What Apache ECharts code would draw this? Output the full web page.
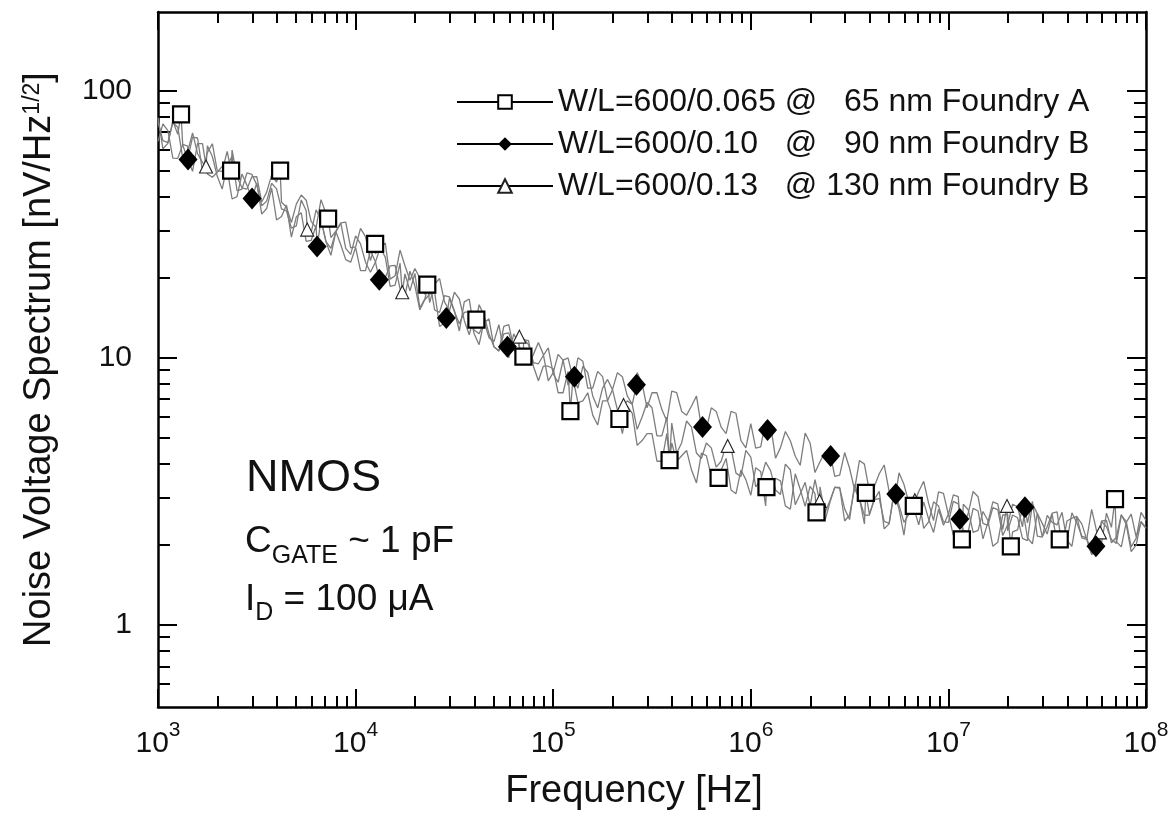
<!DOCTYPE html>
<html>
<head>
<meta charset="utf-8">
<script src="https://cdn.jsdelivr.net/npm/echarts@6/dist/echarts.min.js"></script>
<style>
  html, body { margin: 0; padding: 0; background: #fff; }
  #chart { width: 1176px; height: 813px; }
</style>
</head>
<body>
<div id="chart"></div>
<script>
const FONT = '"Liberation Sans", Arial, Helvetica, sans-serif';
const INK = '#111';

// Sampling frequencies of the measured spectra [Hz]: main grid ...
const freq = [
  1000, 1122, 1259, 1413, 1585, 1778, 1995, 2239, 2512, 2818, 3162, 3548, 3981, 4467, 5012, 5623, 6310, 7079, 7943, 8913,
  1.0e4, 1.122e4, 1.259e4, 1.413e4, 1.585e4, 1.778e4, 1.995e4, 2.239e4, 2.512e4, 2.818e4, 3.162e4, 3.548e4, 3.981e4, 4.467e4, 5.012e4, 5.623e4, 6.310e4, 7.079e4, 7.943e4, 8.913e4,
  1.0e5, 1.122e5, 1.259e5, 1.413e5, 1.585e5, 1.778e5, 1.995e5, 2.239e5, 2.512e5, 2.818e5, 3.162e5, 3.548e5, 3.981e5, 4.467e5, 5.012e5, 5.623e5, 6.310e5, 7.079e5, 7.943e5, 8.913e5,
  1.0e6, 1.122e6, 1.259e6, 1.413e6, 1.585e6, 1.778e6, 1.995e6, 2.239e6, 2.512e6, 2.818e6, 3.162e6, 3.548e6, 3.981e6, 4.467e6, 5.012e6, 5.623e6, 6.310e6, 7.079e6, 7.943e6, 8.913e6,
  1.0e7, 1.122e7, 1.259e7, 1.413e7, 1.585e7, 1.778e7, 1.995e7, 2.239e7, 2.512e7, 2.818e7, 3.162e7, 3.548e7, 3.981e7, 4.467e7, 5.012e7, 5.623e7, 6.310e7, 7.079e7, 7.943e7, 8.913e7,
  1.0e8
];
// ... and the interleaved points between them
const freqMid = [
  1059, 1189, 1334, 1496, 1679, 1884, 2113, 2371, 2661, 2985, 3350, 3758, 4217, 4732, 5309, 5957, 6683, 7499, 8414, 9441,
  1.059e4, 1.189e4, 1.334e4, 1.496e4, 1.679e4, 1.884e4, 2.113e4, 2.371e4, 2.661e4, 2.985e4, 3.350e4, 3.758e4, 4.217e4, 4.732e4, 5.309e4, 5.957e4, 6.683e4, 7.499e4, 8.414e4, 9.441e4,
  1.059e5, 1.189e5, 1.334e5, 1.496e5, 1.679e5, 1.884e5, 2.113e5, 2.371e5, 2.661e5, 2.985e5, 3.350e5, 3.758e5, 4.217e5, 4.732e5, 5.309e5, 5.957e5, 6.683e5, 7.499e5, 8.414e5, 9.441e5,
  1.059e6, 1.189e6, 1.334e6, 1.496e6, 1.679e6, 1.884e6, 2.113e6, 2.371e6, 2.661e6, 2.985e6, 3.350e6, 3.758e6, 4.217e6, 4.732e6, 5.309e6, 5.957e6, 6.683e6, 7.499e6, 8.414e6, 9.441e6,
  1.059e7, 1.189e7, 1.334e7, 1.496e7, 1.679e7, 1.884e7, 2.113e7, 2.371e7, 2.661e7, 2.985e7, 3.350e7, 3.758e7, 4.217e7, 4.732e7, 5.309e7, 5.957e7, 6.683e7, 7.499e7, 8.414e7, 9.441e7
];

// Noise voltage spectra [nV/sqrt(Hz)] on freq
const noise65 = [
  79.2, 63.5, 68.6, 55.4, 66.5, 58.6, 50.1, 59.3, 47.5, 42.8, 47.7, 41.7, 45.5, 36.7, 37.6, 38.9, 30.7, 34.7, 29.8, 32.2,
  26.0, 28.4, 24.5, 26.9, 20.3, 22.1, 21.6, 17.3, 18.9, 16.2, 17.6, 13.8, 14.3, 14.4, 11.0, 12.3, 10.8, 11.7, 9.3, 9.3,
  9.1, 7.4, 8.4, 6.9, 6.1, 6.9, 6.1, 5.2, 6.2, 4.9, 5.2, 4.1, 4.8, 4.3, 3.8, 4.4, 3.6, 3.8, 3.2, 3.8,
  3.06, 3.75, 3.14, 3.46, 2.71, 3.22, 3.30, 2.73, 2.87, 3.25, 2.48, 2.97, 2.60, 2.98, 2.40, 2.72, 2.95, 2.37, 2.49, 2.71,
  2.60, 2.18, 2.70, 2.26, 2.46, 2.04, 2.59, 2.27, 2.12, 2.62, 2.19, 2.02, 2.45, 2.55, 2.09, 2.25, 2.62, 2.05, 2.42, 2.14,
  2.30
];
const noise90 = [
  64.6, 70.9, 55.8, 62.0, 63.3, 48.8, 49.5, 50.8, 40.1, 44.3, 45.1, 36.2, 32.8, 37.3, 33.7, 27.3, 31.3, 27.2, 29.7, 23.3,
  25.9, 21.2, 22.9, 20.0, 22.2, 17.1, 18.6, 16.5, 17.6, 13.5, 14.9, 14.8, 12.3, 13.7, 11.5, 10.5, 12.3, 9.9, 10.3, 10.3,
  8.8, 9.8, 8.7, 9.7, 7.7, 8.5, 7.6, 8.5, 6.7, 8.0, 7.4, 6.4, 7.5, 6.3, 6.6, 5.5, 6.5, 5.5, 6.3, 4.9,
  5.67, 4.64, 5.60, 4.61, 4.89, 3.96, 4.80, 4.08, 4.55, 3.64, 3.86, 4.13, 3.17, 3.68, 3.16, 3.71, 2.86, 3.16, 2.85, 3.15,
  2.59, 3.02, 2.61, 3.02, 2.36, 2.70, 2.37, 2.77, 2.41, 2.15, 2.57, 2.37, 2.07, 2.54, 2.09, 1.89, 2.33, 2.02, 2.44, 2.11,
  2.46
];
const noise130 = [
  76.5, 63.9, 73.0, 59.2, 58.2, 62.2, 47.8, 52.5, 42.2, 49.2, 44.4, 38.6, 42.9, 35.5, 31.2, 35.5, 35.8, 27.3, 29.6, 25.7,
  28.6, 22.8, 22.8, 23.8, 18.7, 20.6, 20.7, 16.6, 15.1, 17.1, 15.0, 16.2, 12.7, 13.5, 11.0, 13.1, 10.9, 11.8, 9.6, 10.2,
  8.7, 9.8, 8.4, 9.3, 7.2, 7.7, 7.6, 5.8, 6.7, 6.0, 6.5, 5.1, 5.7, 4.8, 5.5, 4.2, 4.6, 4.1, 4.6, 3.6,
  4.25, 3.49, 3.78, 3.08, 3.81, 3.09, 2.79, 3.29, 2.91, 3.27, 2.58, 2.96, 2.58, 3.16, 2.39, 2.81, 2.60, 2.97, 2.43, 2.79,
  2.42, 2.84, 2.23, 2.67, 2.42, 2.84, 2.25, 2.52, 2.07, 2.61, 2.33, 2.65, 2.06, 2.41, 2.12, 1.89, 2.46, 2.13, 2.38, 1.99,
  2.31
];

// Noise voltage spectra [nV/sqrt(Hz)] on freqMid
const noise65Mid = [
  60.6, 77.0, 62.6, 67.0, 50.0, 63.3, 49.9, 59.9, 43.3, 47.6, 38.3, 48.3, 38.2, 32.1, 40.7, 32.4, 39.1, 28.2, 32.0, 25.8,
  30.5, 23.1, 25.7, 19.7, 25.3, 19.5, 19.9, 16.1, 19.8, 15.0, 16.6, 12.2, 15.8, 12.3, 10.6, 12.4, 10.0, 11.6, 8.2, 9.3,
  7.4, 8.9, 6.8, 7.4, 5.6, 6.9, 5.6, 6.6, 4.7, 5.2, 4.1, 5.2, 4.1, 4.5, 3.4, 4.3, 3.6, 4.2, 3.1, 3.5,
  3.88, 2.79, 3.54, 2.79, 3.68, 2.78, 3.10, 2.45, 3.28, 2.72, 3.36, 2.39, 2.94, 2.44, 3.11, 2.17, 2.74, 2.89, 2.22, 2.36,
  2.17, 2.83, 2.22, 2.66, 1.97, 2.58, 2.23, 2.75, 2.01, 2.40, 2.60, 1.94, 2.51, 2.12, 2.71, 2.02, 2.32, 1.96, 2.60, 2.42
];
const noise90Mid = [
  75.1, 55.9, 62.9, 49.9, 63.3, 47.4, 52.1, 39.3, 48.8, 39.5, 34.5, 43.2, 33.8, 28.3, 34.9, 27.5, 32.7, 24.2, 26.5, 22.8,
  21.2, 25.2, 18.5, 22.1, 18.1, 21.1, 15.1, 17.3, 13.1, 16.7, 13.4, 14.9, 11.2, 11.9, 13.3, 10.0, 11.3, 9.4, 11.4, 8.2,
  10.3, 7.9, 10.0, 7.7, 8.9, 6.9, 8.8, 7.2, 8.8, 6.5, 7.4, 5.8, 7.4, 6.1, 7.2, 5.4, 6.3, 5.2, 6.2, 4.6,
  4.59, 5.78, 4.21, 5.30, 4.28, 5.23, 3.72, 4.42, 3.60, 4.42, 3.21, 4.00, 3.30, 3.97, 2.91, 3.36, 2.83, 3.45, 2.46, 3.11,
  3.07, 2.38, 3.16, 2.40, 2.75, 2.16, 2.83, 2.33, 2.90, 2.13, 2.42, 2.64, 1.97, 2.39, 1.83, 2.44, 2.09, 2.57, 1.96, 2.64
];
const noise130Mid = [
  65.0, 75.9, 55.9, 69.5, 53.9, 56.7, 42.8, 56.8, 42.8, 48.6, 37.1, 45.0, 36.1, 30.6, 39.0, 29.4, 32.9, 25.7, 31.9, 24.4,
  26.7, 20.9, 25.9, 18.5, 22.6, 17.8, 15.4, 19.4, 14.8, 16.9, 12.6, 16.6, 12.3, 14.0, 10.6, 13.3, 10.0, 11.2, 9.5, 10.9,
  8.1, 10.0, 7.7, 8.8, 6.5, 8.3, 6.4, 6.9, 5.4, 6.8, 5.1, 6.0, 4.4, 5.8, 4.4, 4.8, 3.9, 4.7, 3.7, 4.5,
  3.29, 4.07, 3.20, 4.00, 2.82, 3.42, 3.50, 2.63, 3.27, 2.45, 3.24, 2.57, 2.95, 2.29, 3.15, 2.42, 3.02, 2.30, 2.89, 2.43,
  2.90, 2.26, 2.73, 2.10, 2.89, 2.28, 2.58, 2.11, 2.84, 2.14, 2.62, 1.97, 2.63, 2.15, 1.85, 2.45, 2.03, 2.59, 1.88, 2.44
];

// Marked points [frequency, noise] of each spectrum
const marks65 = [
  [1308, 81.5], [2344, 50.2], [4150, 50.2], [7260, 33.2], [12560, 26.7], [23060, 18.8], [40850, 13.9],
  [70660, 10.1], [122200, 6.32], [216300, 5.9], [388000, 4.14], [687000, 3.55], [1.2e6, 3.28],
  [2.15e6, 2.64], [3.82e6, 3.12], [6.68e6, 2.79], [1.17e7, 2.09], [2.07e7, 1.97], [3.66e7, 2.09], [6.97e7, 2.96]
];
const marks90 = [
  [1419, 55.2], [2992, 39.5], [6385, 26.1], [13180, 19.6], [28780, 14.1], [58660, 11.0], [128000, 8.49],
  [263800, 7.92], [569600, 5.51], [1.216e6, 5.37], [2.535e6, 4.29], [5.42e6, 3.09], [1.143e7, 2.49],
  [2.44e7, 2.76], [5.58e7, 1.97]
];
const marks130 = [
  [1750, 52.0], [5690, 30.2], [17220, 17.6], [67440, 12.0], [227000, 6.66], [388000, 4.1],
  [764000, 4.68], [2.23e6, 2.91], [6.76e6, 2.93], [1.98e7, 2.79], [5.85e7, 2.22]
];

const seriesNames = [
  'W/L=600/0.065 @   65 nm Foundry A',
  'W/L=600/0.10   @   90 nm Foundry B',
  'W/L=600/0.13   @ 130 nm Foundry B'
];

// Axis ticks
const xMajor = [1e3, 1e4, 1e5, 1e6, 1e7, 1e8];
const xMinor = [
  2e3, 3e3, 4e3, 5e3, 6e3, 7e3, 8e3, 9e3,
  2e4, 3e4, 4e4, 5e4, 6e4, 7e4, 8e4, 9e4,
  2e5, 3e5, 4e5, 5e5, 6e5, 7e5, 8e5, 9e5,
  2e6, 3e6, 4e6, 5e6, 6e6, 7e6, 8e6, 9e6,
  2e7, 3e7, 4e7, 5e7, 6e7, 7e7, 8e7, 9e7
];
const yMajor = [1, 10, 100];
const yMinor = [0.6, 0.7, 0.8, 0.9, 2, 3, 4, 5, 6, 7, 8, 9, 20, 30, 40, 50, 60, 70, 80, 90];
const yLabels = ['1', '10', '100'];

const X_RANGE = [1e3, 1e8];
const Y_RANGE = [0.493, 197];

// One line per spectrum: every sample, with a symbol only on the marked points
function buildData(noise, noiseMid, marks) {
  const items = freq.map((f, i) => ({ value: [f, noise[i]], symbol: 'none' }))
    .concat(freqMid.map((f, i) => ({ value: [f, noiseMid[i]], symbol: 'none' })))
    .concat(marks.map(p => ({ value: p })));
  items.sort((a, b) => a.value[0] - b.value[0]);
  return items;
}

function frameAxis(dim, position, ticks, tickLen, showLine) {
  const range = dim === 'x' ? X_RANGE : Y_RANGE;
  return {
    type: 'log', logBase: 10, min: range[0], max: range[1], position: position,
    axisLine: { show: showLine, onZero: false, lineStyle: { color: '#000', width: 2.5 } },
    axisTick: { show: true, inside: true, length: tickLen, customValues: ticks, lineStyle: { color: '#000', width: 2 } },
    axisLabel: { show: false },
    splitLine: { show: false },
    minorTick: { show: false },
    minorSplitLine: { show: false }
  };
}

const xBottom = frameAxis('x', 'bottom', xMajor, 18, true);
xBottom.axisLabel = {
  show: true, customValues: xMajor, margin: 13,
  formatter: v => '{b|10}{s|' + Math.round(Math.log10(v)) + '}',
  rich: {
    b: { fontSize: 30, fontFamily: FONT, color: INK, padding: [9, 0, 0, 0] },
    s: { fontSize: 21, fontFamily: FONT, color: INK, verticalAlign: 'top' }
  }
};
xBottom.name = 'Frequency [Hz]';
xBottom.nameLocation = 'middle';
xBottom.nameGap = 66;
xBottom.nameMoveOverlap = false;
xBottom.nameTextStyle = { fontSize: 38, fontFamily: FONT, color: INK, padding: [0, 36, 0, 0] };

const yLeft = frameAxis('y', 'left', yMajor, 19, true);
yLeft.axisLabel = {
  show: true, customValues: yMajor, margin: 26,
  formatter: v => yLabels[yMajor.indexOf(Math.round(v))] || '',
  fontSize: 30, fontFamily: FONT, color: INK
};
yLeft.name = 'Noise Voltage Spectrum [nV/Hz{s|1/2}]';
yLeft.nameLocation = 'middle';
yLeft.nameGap = 99;
yLeft.nameRotate = 90;
yLeft.nameMoveOverlap = false;
yLeft.nameTextStyle = {
  fontSize: 38, fontFamily: FONT, color: INK,
  rich: { s: { fontSize: 23, fontFamily: FONT, color: INK, verticalAlign: 'top' } }
};

function spectrum(idx, noise, noiseMid, marks, symbol, size, itemStyle) {
  return {
    type: 'line', name: seriesNames[idx], xAxisIndex: 0, yAxisIndex: 0,
    data: buildData(noise, noiseMid, marks),
    symbol: symbol, symbolSize: size, showSymbol: true, showAllSymbol: true,
    lineStyle: { color: '#7d7d7d', width: 1.3 },
    itemStyle: itemStyle,
    emphasis: { disabled: true },
    silent: true
  };
}

const chart = echarts.init(document.getElementById('chart'), null, { renderer: 'canvas' });
chart.setOption({
  animation: false,
  backgroundColor: '#fff',
  grid: { left: 158, right: 30, top: 12, bottom: 106, containLabel: false, outerBoundsMode: 'none' },
  xAxis: [
    xBottom,
    frameAxis('x', 'bottom', xMinor, 11, false),
    frameAxis('x', 'top', xMajor, 18, true),
    frameAxis('x', 'top', xMinor, 11, false)
  ],
  yAxis: [
    yLeft,
    frameAxis('y', 'left', yMinor, 12, false),
    frameAxis('y', 'right', yMajor, 19, true),
    frameAxis('y', 'right', yMinor, 12, false)
  ],
  legend: {
    orient: 'vertical', left: 451, top: 81,
    data: seriesNames,
    itemWidth: 96, itemHeight: 17, itemGap: 10,
    textStyle: { fontSize: 32, fontFamily: FONT, color: INK },
    lineStyle: { color: '#000', width: 2 },
    selectedMode: false
  },
  series: [
    spectrum(2, noise130, noise130Mid, marks130, 'triangle', 13, { color: '#fff', borderColor: '#222', borderWidth: 1.1 }),
    spectrum(1, noise90, noise90Mid, marks90, 'diamond', [19, 22], { color: '#000', borderColor: '#000', borderWidth: 0 }),
    spectrum(0, noise65, noise65Mid, marks65, 'rect', 16, { color: '#fff', borderColor: '#000', borderWidth: 2.2 })
  ],
  graphic: [
    {
      type: 'text', x: 246, y: 456, silent: true,
      style: { text: 'NMOS', fontSize: 45, fontFamily: FONT, fill: INK, verticalAlign: 'top' }
    },
    {
      type: 'text', x: 245, y: 523, silent: true,
      style: {
        text: '{b|C}{s|GATE}{b| ~ 1 pF}', verticalAlign: 'top',
        rich: {
          b: { fontSize: 37, fontFamily: FONT, fill: INK, padding: [0, 0, 9, 0], verticalAlign: 'bottom' },
          s: { fontSize: 25, fontFamily: FONT, fill: INK, verticalAlign: 'bottom' }
        }
      }
    },
    {
      type: 'text', x: 245, y: 581, silent: true,
      style: {
        text: '{b|I}{s|D}{b| = 100 μA}', verticalAlign: 'top',
        rich: {
          b: { fontSize: 37, fontFamily: FONT, fill: INK, padding: [0, 0, 8, 0], verticalAlign: 'bottom' },
          s: { fontSize: 25, fontFamily: FONT, fill: INK, verticalAlign: 'bottom' }
        }
      }
    }
  ]
});
</script>
</body>
</html>
